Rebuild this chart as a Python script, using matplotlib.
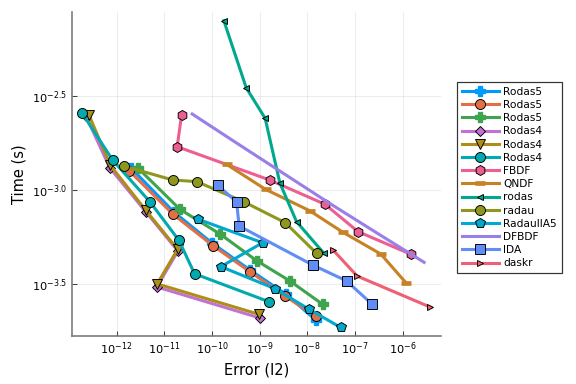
import numpy as np
import matplotlib
matplotlib.use("Agg")
from matplotlib import pyplot as plt
from matplotlib.ticker import FixedLocator, NullLocator

# exponents (log10): error and time
names = ["Rodas5", "Rodas5", "Rodas5", "Rodas4", "Rodas4", "Rodas4", "FBDF",
         "QNDF", "rodas", "radau", "RadauIIA5", "DFBDF", "IDA", "daskr"]

err_log = [
    [-11.70, -10.80, -10.00, -9.20, -8.45, -7.82],
    [-11.736, -10.813, -9.974, -9.204, -8.469, -7.825],
    [-11.547, -10.672, -9.833, -9.063, -8.365, -7.679],
    [-12.644, -12.141, -11.385, -10.714, -11.155, -8.994],
    [-12.581, -12.130, -11.392, -10.720, -11.148, -9.009],
    [-12.722, -12.084, -11.301, -10.693, -10.364, -8.799],
    [-10.636, -10.729, -8.790, -7.630, -6.932, -5.826],
    [-9.692, -8.874, -7.945, -7.259, -6.456, -5.917],
    [-9.749, -9.281, -8.883, -8.574, -8.224, -7.651],
    [-11.847, -10.825, -10.316, -9.323, -8.463, -7.804],
    [-10.288, -8.937, -9.812, -8.679, -7.960, -7.301],
    [-10.414, -9.497, -8.511, -7.525, -6.519, -5.547],
    [-9.881, -9.483, -9.428, -7.888, -7.175, -6.638],
    [-7.456, -6.953, -5.413],
]
time_log = [
    [-2.881, -3.115, -3.280, -3.424, -3.552, -3.690],
    [-2.896, -3.128, -3.295, -3.433, -3.562, -3.669],
    [-2.883, -3.101, -3.232, -3.374, -3.482, -3.606],
    [-2.605, -2.881, -3.115, -3.323, -3.514, -3.679],
    [-2.599, -2.868, -3.105, -3.314, -3.498, -3.660],
    [-2.590, -2.839, -3.061, -3.266, -3.444, -3.593],
    [-2.599, -2.768, -2.945, -3.074, -3.220, -3.340],
    [-2.862, -2.995, -3.109, -3.222, -3.339, -3.495],
    [-2.098, -2.454, -2.617, -2.961, -3.167, -3.335],
    [-2.871, -2.945, -2.954, -3.062, -3.172, -3.335],
    [-3.154, -3.279, -3.406, -3.523, -3.633, -3.729],
    [-2.594, -2.746, -2.908, -3.070, -3.230, -3.383],
    [-2.973, -3.061, -3.190, -3.397, -3.482, -3.606],
    [-3.318, -3.456, -3.622],
]

colors = ["#009AFA", "#E36F47", "#3EA44E", "#C371D2", "#AC8E18", "#00AAAE",
          "#ED5E93", "#C68225", "#00A98D", "#8E971E", "#00A9CD", "#9B7FE8",
          "#618DF6", "#F05F73"]
markers = ["P", "o", "P", "D", "v", "o", "h", "_", "<", "o", "p", None, "s", ">"]
msizes = [7, 7.5, 7, 5.5, 8, 7.5, 7.5, 8, 5, 7.5, 7.5, 0, 7, 5]

xticks = [1e-12, 1e-11, 1e-10, 1e-9, 1e-8, 1e-7, 1e-6]
xlabels = ["$10^{-12}$", "$10^{-11}$", "$10^{-10}$", "$10^{-9}$", "$10^{-8}$",
           "$10^{-7}$", "$10^{-6}$"]
yticks = [10**-2.5, 10**-3.0, 10**-3.5]
ylabels = ["$10^{-2.5}$", "$10^{-3.0}$", "$10^{-3.5}$"]

fig = plt.figure(figsize=(6, 4), dpi=96)
ax = fig.add_axes([0.1255, 0.125, 0.6395, 0.8445])

for i in range(len(names)):
    x = 10 ** np.array(err_log[i])
    y = 10 ** np.array(time_log[i])
    m = markers[i]
    if m is None:
        ax.plot(x, y, color=colors[i], lw=2.3, label=names[i])
    elif m == "P":
        ax.plot(x, y, color=colors[i], lw=2.3, marker=m, ms=msizes[i],
                mec=colors[i], label=names[i])
    elif m == "_":
        ax.plot(x, y, color=colors[i], lw=2.3, marker=m, ms=msizes[i],
                mew=3.5, mec=colors[i], label=names[i])
    else:
        ax.plot(x, y, color=colors[i], lw=2.3, marker=m, ms=msizes[i],
                mec="black", mew=0.7, label=names[i])

ax.set_xscale("log")
ax.set_yscale("log")
ax.set_xlim(10**-12.93, 10**-5.20)
ax.set_ylim(10**-3.775, 10**-2.05)
ax.xaxis.set_major_locator(FixedLocator(xticks))
ax.set_xticklabels(xlabels)
ax.yaxis.set_major_locator(FixedLocator(yticks))
ax.set_yticklabels(ylabels)
ax.xaxis.set_minor_locator(NullLocator())
ax.yaxis.set_minor_locator(NullLocator())
ax.tick_params(direction="in", labelsize=8.5, length=4, color="#444444")
ax.grid(True, color="black", alpha=0.08, lw=0.7)
for s in ["top", "right"]:
    ax.spines[s].set_visible(False)
for s in ["left", "bottom"]:
    ax.spines[s].set_color("#777777")
    ax.spines[s].set_linewidth(1.2)
ax.set_xlabel("Error (l2)", fontsize=11)
ax.set_ylabel("Time (s)", fontsize=11)

leg = fig.legend(loc="upper left", bbox_to_anchor=(457 / 576, 1 - 82 / 384),
                 fontsize=8, fancybox=False, edgecolor="#333333",
                 framealpha=1, handlelength=3.5, labelspacing=0.3,
                 borderpad=0.45, handletextpad=0.4, borderaxespad=0)
leg.get_frame().set_linewidth(0.9)

fig.savefig("out.png", dpi=96)
